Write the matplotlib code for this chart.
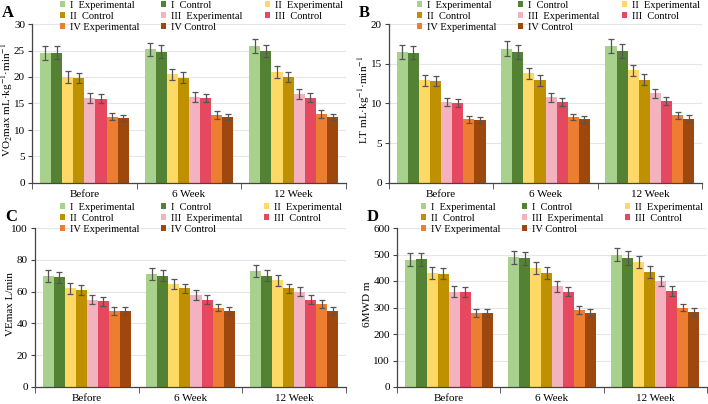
import numpy as np
import matplotlib
matplotlib.use("Agg")
import matplotlib.pyplot as plt
from matplotlib.legend import Legend

plt.rcParams['font.family'] = ['Liberation Serif', 'DejaVu Serif']
plt.rcParams['mathtext.fontset'] = 'stix'

groups = ['Before', '6 Week', '12 Week']
series = ['I  Experimental', 'I  Control', 'II  Experimental', 'II  Control',
          'III  Experimental', 'III  Control', 'IV Experimental', 'IV Control']
colors = ['#a9d18e', '#548235', '#ffd966', '#bf9000',
          '#f4b1bf', '#e5485f', '#ed7d31', '#9e480e']

# rows = series, columns = Before / 6 Week / 12 Week
vo2_mean = [[24.5, 25.2, 25.8], [24.6, 24.8, 24.9], [20.0, 20.5, 21.0], [19.8, 19.9, 20.0],
            [16.0, 16.2, 16.8], [15.9, 16.0, 16.1], [12.5, 12.8, 13.0], [12.3, 12.4, 12.5]]
vo2_err = [1.3, 1.2, 1.1, 1.0, 0.9, 0.8, 0.7, 0.6]

lt_mean = [[16.5, 16.9, 17.2], [16.4, 16.5, 16.6], [12.9, 13.8, 14.2], [12.8, 12.9, 13.0],
           [10.2, 10.8, 11.3], [10.1, 10.2, 10.3], [8.0, 8.3, 8.5], [7.9, 8.0, 8.1]]
lt_err = [0.9, 0.85, 0.7, 0.65, 0.55, 0.5, 0.4, 0.4]

ve_mean = [[70, 71, 73], [69, 70, 70], [62, 65, 67], [61, 62, 62],
           [55, 58, 60], [54, 55, 55], [48, 50, 52], [48, 48, 48]]
ve_err = [3.8, 3.6, 3.2, 3.0, 3.0, 2.8, 2.5, 2.5]

mwd_mean = [[480, 490, 500], [482, 485, 487], [430, 450, 472], [428, 430, 433],
            [360, 380, 400], [358, 360, 362], [280, 290, 300], [278, 280, 282]]
mwd_err = [25, 25, 23, 22, 20, 18, 15, 15]

# letter, means, errors, y label, ymax, step, [left, top, width, height] px,
# ylabel centre x px, legend column x offsets px, legend top above axes px
panels = [
    ('A', vo2_mean, vo2_err, r'VO$_2$max mL·kg$^{-1}$·min$^{-1}$', 30, 5,
     [32, 24, 314, 159], 9, [28, 129, 233], 23),
    ('B', lt_mean, lt_err, r'LT mL·kg$^{-1}$·min$^{-1}$', 20, 5,
     [389, 24, 313, 159], 366, [28, 129, 233], 23),
    ('C', ve_mean, ve_err, 'VEmax L/min', 100, 20,
     [35, 228, 311, 159], 9, [25, 126, 229], 25),
    ('D', mwd_mean, mwd_err, '6MWD m', 600, 100,
     [397, 228, 310, 159], 366, [24, 125, 228], 25),
]

W, H = 708, 404
fig = plt.figure(figsize=(W / 100, H / 100), dpi=100)

x = np.arange(len(groups))
n = len(series)
bw = 0.85 / n
columns = [[0, 3, 6], [1, 4, 7], [2, 5]]

for letter, mean, err, ylabel, ymax, step, (px, py, pw, ph), lx, legx, legtop in panels:
    ax = fig.add_axes([px / W, 1 - (py + ph) / H, pw / W, ph / H])
    handles = []
    for i in range(n):
        pos = x - 0.425 + bw * (i + 0.5)
        b = ax.bar(pos, mean[i], width=bw, color=colors[i], zorder=2,
                   yerr=err[i], ecolor='#555555',
                   error_kw=dict(elinewidth=0.9, capsize=2.5, capthick=0.9))
        handles.append(b)
    ax.set_xlim(-0.5, 2.5)
    ax.set_ylim(0, ymax)
    ax.set_yticks(np.arange(0, ymax + step / 2, step))
    ax.yaxis.grid(True, color='#e6e6e6', linewidth=0.8, zorder=0)
    ax.set_axisbelow(True)
    ax.set_xticks(x)
    ax.set_xticklabels(groups, fontsize=8)
    ax.tick_params(axis='x', length=0, pad=5)
    ax.set_xticks([-0.5, 0.5, 1.5, 2.5], minor=True)
    ax.tick_params(axis='x', which='minor', length=4, color='#444444')
    ax.tick_params(axis='y', labelsize=8, length=3, color='#444444', pad=2)
    for s in ['top', 'right']:
        ax.spines[s].set_visible(False)
    for s in ['left', 'bottom']:
        ax.spines[s].set_color('#444444')
        ax.spines[s].set_linewidth(0.9)
    ax.set_ylabel(ylabel, fontsize=8)
    ax.yaxis.set_label_coords((lx + 6 - px) / pw, 0.52)

    # legend laid out by hand: three columns, rows filled left to right
    for c, idx in enumerate(columns):
        leg = Legend(ax, [handles[k] for k in idx], [series[k] for k in idx],
                     loc='upper left',
                     bbox_to_anchor=(legx[c] / pw, 1 + legtop / ph),
                     frameon=False, fontsize=7.5, handlelength=0.5, handleheight=0.5,
                     handletextpad=0.5, labelspacing=0.18, borderpad=0,
                     borderaxespad=0)
        ax.add_artist(leg)
    fig.text((px - 30) / W, 1 - (py - 11) / H, letter, fontsize=12,
             fontweight='bold', va='center', ha='left')

fig.savefig('out.png', dpi=100)
